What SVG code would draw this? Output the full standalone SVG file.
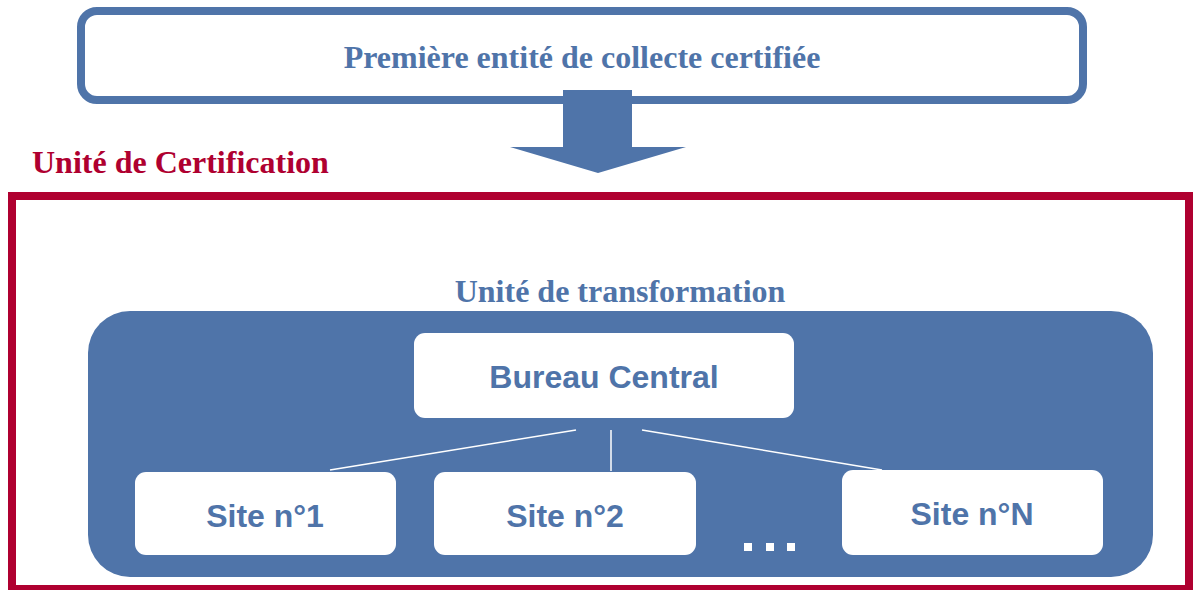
<svg xmlns="http://www.w3.org/2000/svg" width="1195" height="590" viewBox="0 0 1195 590">
<style>
.serif{font-family:"Liberation Serif","Times New Roman",serif;font-weight:bold;font-size:32px}
.sans{font-family:"Liberation Sans",Arial,sans-serif;font-weight:bold;font-size:32px;fill:#4F74A9}
.box{fill:#fff}
.conn{stroke:#fff;stroke-width:1.5;fill:none}
</style>
<rect width="1195" height="590" fill="#fff"/>
<g id="source">
<rect x="81" y="11" width="1002" height="89" rx="16" fill="#fff" stroke="#4F74A9" stroke-width="8"/>
<text class="serif" x="582" y="68" text-anchor="middle" fill="#4F74A9">Première entité de collecte certifiée</text>
</g>
<g id="arrow">
<polygon points="563,90 632,90 632,147 686,147 598,173 510,147 563,147" fill="#4F74A9"/>
</g>
<g id="certification">
<text class="serif" x="32" y="173" fill="#AF0030">Unité de Certification</text>
<rect x="12" y="196" width="1177" height="393" fill="none" stroke="#AF0030" stroke-width="8"/>
</g>
<g id="transformation">
<text class="serif" x="620" y="302" text-anchor="middle" fill="#4F74A9">Unité de transformation</text>
<rect x="88" y="311" width="1065" height="266" rx="42" fill="#4F74A9"/>
</g>
<g id="connectors">
<line class="conn" x1="576" y1="430" x2="330" y2="470"/>
<line class="conn" x1="611" y1="430" x2="611" y2="471"/>
<line class="conn" x1="642" y1="430" x2="882" y2="470"/>
</g>
<g id="bureau">
<rect class="box" x="414" y="333" width="380" height="85" rx="11"/>
<text class="sans" x="604" y="388" text-anchor="middle">Bureau Central</text>
</g>
<g id="site1">
<rect class="box" x="135" y="472" width="261" height="83" rx="11"/>
<text class="sans" x="265" y="527" text-anchor="middle">Site n°1</text>
</g>
<g id="site2">
<rect class="box" x="434" y="472" width="262" height="83" rx="11"/>
<text class="sans" x="565" y="527" text-anchor="middle">Site n°2</text>
</g>
<g id="siteN">
<rect class="box" x="842" y="470" width="261" height="85" rx="11"/>
<text class="sans" x="972" y="525" text-anchor="middle">Site n°N</text>
</g>
<g id="ellipsis" fill="#fff">
<rect x="744" y="543" width="8" height="8"/>
<rect x="766" y="543" width="8" height="8"/>
<rect x="787" y="543" width="8" height="8"/>
</g>
</svg>
